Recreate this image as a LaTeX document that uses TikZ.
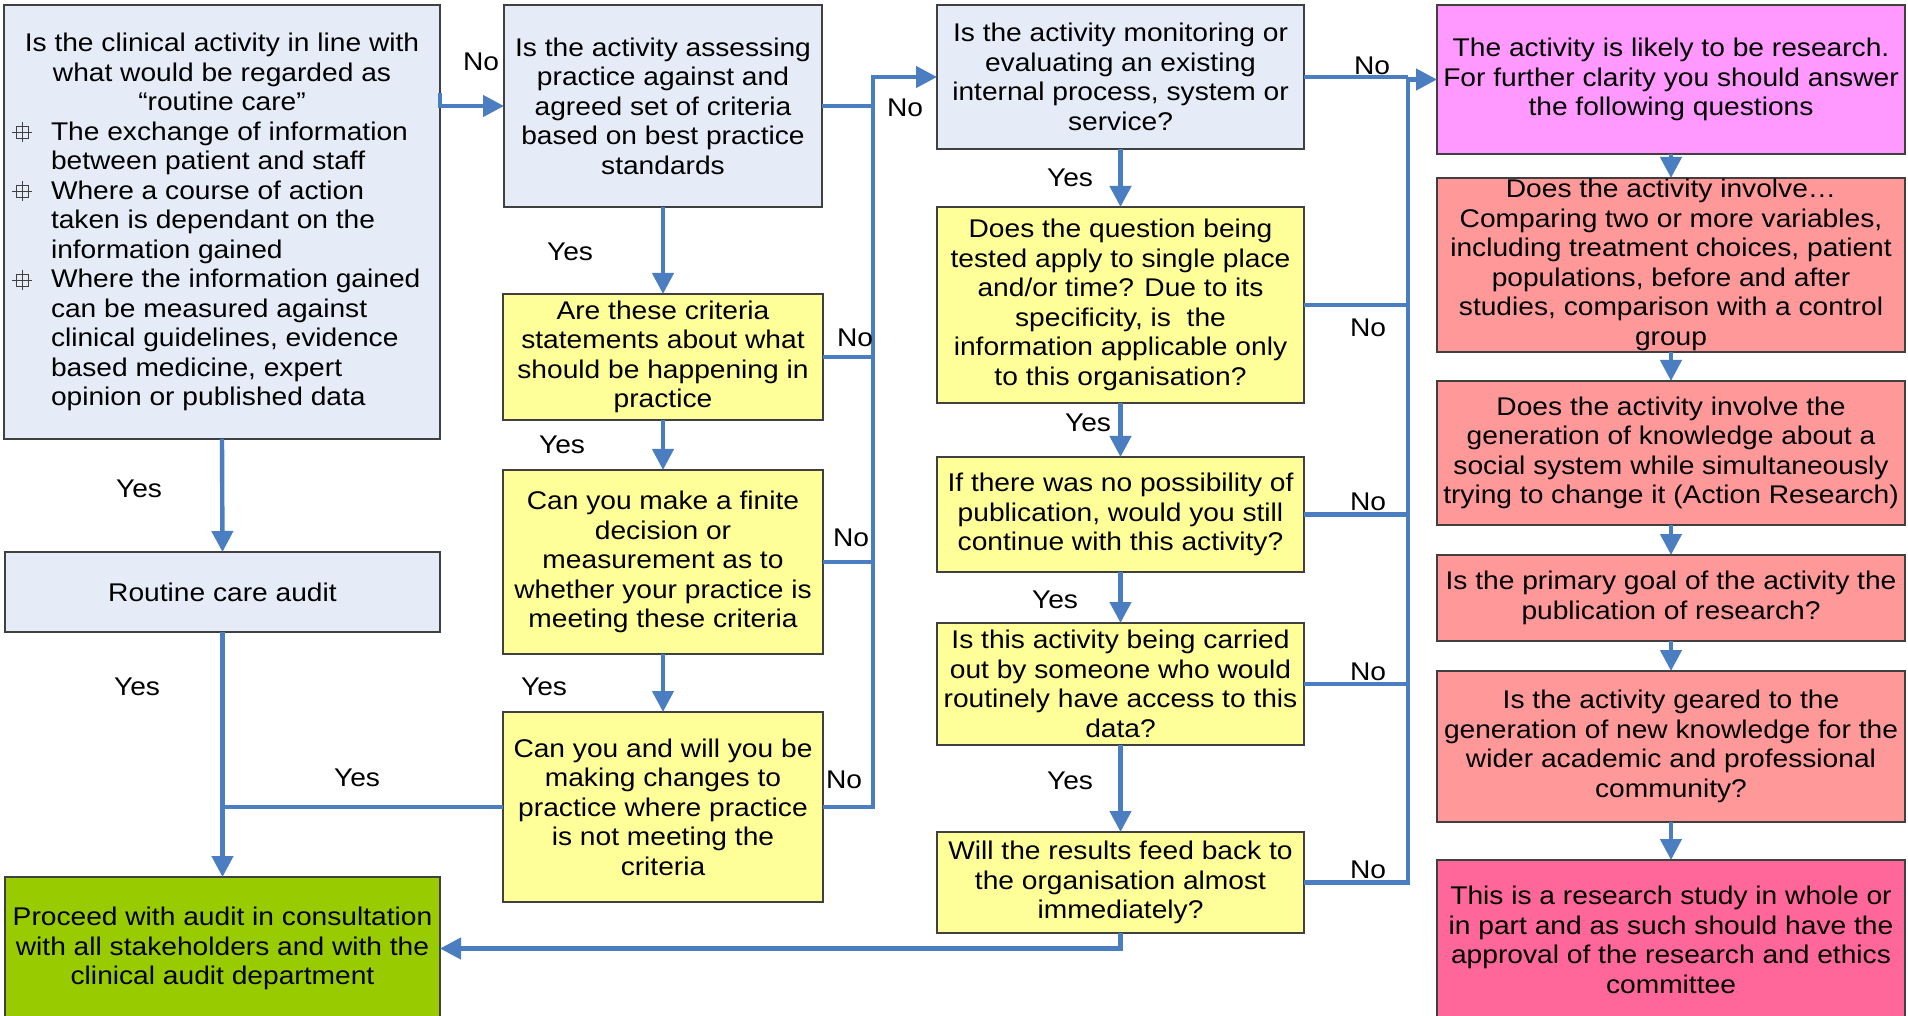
\documentclass[tikz,border=0pt]{standalone}
\usepackage{fontspec}
\setmainfont{Liberation Sans}[FakeStretch=1.1]
\usetikzlibrary{arrows.meta,calc}
\definecolor{lblue}{HTML}{E6ECF7}
\definecolor{ylw}{HTML}{FFFF99}
\definecolor{mag}{HTML}{FF99FF}
\definecolor{salmon}{HTML}{FF9999}
\definecolor{pinkb}{HTML}{FF6699}
\definecolor{grn}{HTML}{99CC00}
\definecolor{ablue}{HTML}{4A7EC1}
\definecolor{bord}{HTML}{404040}
\newcommand\fs{\fontsize{12.8pt}{14.75pt}\selectfont}
\newcommand\bx[7]{\node[box,#6,minimum width={(#4-#2)*0.5pt},minimum height={(#5-#3)*0.5pt}] (#1) at ({(#2+#4)/2},{(#3+#5)/2}) {#7};}
\newcommand\bl[1]{\makebox[210pt][l]{\hspace*{19.5pt}#1}}
\begin{document}
\begin{tikzpicture}[x=0.5pt,y=-0.5pt,
  box/.style={draw=bord,line width=0.7pt,inner sep=0pt,outer sep=0pt,align=center,font=\fs},
  conn/.style={draw=ablue,line width=2.2pt},
  arr/.style={conn,-{Triangle[length=10.5pt,width=10.5pt]}},
  lbl/.style={font=\fs,inner sep=0pt},
  bul/.pic={\draw[line width=0.45pt,bord] (-6,-6) rectangle (6,6) (-10,0)--(10,0) (0,-10)--(0,10);}]
\useasboundingbox (0,0) rectangle (1908,1016);
\fill[white] (0,0) rectangle (1908,1016);
% column 1
\bx{A}{4}{5}{440}{439}{fill=lblue}{Is the clinical activity in line with\\ what would be regarded as\\ “routine care”\\
\bl{The exchange of information}\\ \bl{between patient and staff}\\
\bl{Where a course of action}\\ \bl{taken is dependant on the}\\ \bl{information gained}\\
\bl{Where the information gained}\\ \bl{can be measured against}\\ \bl{clinical guidelines, evidence}\\ \bl{based medicine, expert}\\ \bl{opinion or published data}}
\pic at (22,132) {bul};
\pic at (22,191) {bul};
\pic at (22,280) {bul};
\bx{R}{5}{552}{440}{632}{fill=lblue}{Routine care audit}
\bx{G}{5}{877}{440}{1020}{fill=grn}{Proceed with audit in consultation\\ with all stakeholders and with the\\ clinical audit department}
% column 2
\bx{B}{504}{5}{822}{207}{fill=lblue}{Is the activity assessing\\ practice against and\\ agreed set of criteria\\ based on best practice\\ standards}
\bx{C}{503}{294}{823}{420}{fill=ylw}{Are these criteria\\ statements about what\\ should be happening in\\ practice}
\bx{C2}{503}{470}{823}{654}{fill=ylw}{Can you make a finite\\ decision or\\ measurement as to\\ whether your practice is\\ meeting these criteria}
\bx{C3}{503}{712}{823}{902}{fill=ylw}{Can you and will you be\\ making changes to\\ practice where practice\\ is not meeting the\\ criteria}
% column 3
\bx{D}{937}{5}{1304}{149}{fill=lblue}{Is the activity monitoring or\\ evaluating an existing\\ internal process, system or\\ service?}
\bx{E}{937}{207}{1304}{403}{fill=ylw}{Does the question being\\ tested apply to single place\\ and/or time? Due to its\\ specificity, is\ \ the\\ information applicable only\\ to this organisation?}
\bx{E2}{937}{457}{1304}{572}{fill=ylw}{If there was no possibility of\\ publication, would you still\\ continue with this activity?}
\bx{E3}{937}{623}{1304}{745}{fill=ylw}{Is this activity being carried\\ out by someone who would\\ routinely have access to this\\ data?}
\bx{E4}{937}{832}{1304}{933}{fill=ylw}{Will the results feed back to\\ the organisation almost\\ immediately?}
% column 4
\bx{F}{1437}{5}{1905}{154}{fill=mag}{The activity is likely to be research.\\ For further clarity you should answer\\ the following questions}
\bx{H1}{1437}{178}{1905}{352}{fill=salmon}{Does the activity involve…\\ Comparing two or more variables,\\ including treatment choices, patient\\ populations, before and after\\ studies, comparison with a control\\ group}
\bx{H2}{1437}{381}{1905}{525}{fill=salmon}{Does the activity involve the\\ generation of knowledge about a\\ social system while simultaneously\\ trying to change it (Action Research)}
\bx{H3}{1437}{555}{1905}{641}{fill=salmon}{Is the primary goal of the activity the\\ publication of research?}
\bx{H4}{1437}{671}{1905}{822}{fill=salmon}{Is the activity geared to the\\ generation of new knowledge for the\\ wider academic and professional\\ community?}
\bx{H5}{1437}{860}{1905}{1020}{fill=pinkb}{This is a research study in whole or\\ in part and as such should have the\\ approval of the research and ethics\\ committee}
% bus coordinates
\coordinate (bus1) at (873,77);
\coordinate (bus2) at (1408,79.5);
% connectors column 1
\draw[arr] ($(A.north east)+(0,88)$) |- (B.west);
\draw[arr] (A.south) -- (R.north);
\draw[arr] (R.south) -- (G.north);
\draw[conn] (C3.west) -- (C3.west -| R.south);
% column 2
\draw[arr] (B.south) -- (C.north);
\draw[arr] (C.south) -- (C2.north);
\draw[arr] (C2.south) -- (C3.north);
\draw[arr] (C3.east) -| (bus1) -- (D.west);
\draw[conn] (B.east) -- (B.east -| bus1);
\draw[conn] (C.east) -- (C.east -| bus1);
\draw[conn] (C2.east) -- (C2.east -| bus1);
% column 3
\draw[arr] (D.south) -- (E.north);
\draw[arr] (E.south) -- (E2.north);
\draw[arr] (E2.south) -- (E3.north);
\draw[arr] (E3.south) -- (E4.north);
\draw[arr] (E4.east) -| (bus2) -- (F.west);
\draw[conn] (D.east) -- (D.east -| bus2);
\draw[conn] (E.east) -- (E.east -| bus2);
\draw[conn] (E2.east) -- (E2.east -| bus2);
\draw[conn] (E3.east) -- (E3.east -| bus2);
\draw[arr] (E4.south) |- (G.east);
% column 4
\draw[arr] (F.south) -- (H1.north);
\draw[arr] (H1.south) -- (H2.north);
\draw[arr] (H2.south) -- (H3.north);
\draw[arr] (H3.south) -- (H4.north);
\draw[arr] (H4.south) -- (H5.north);
% labels
\node[lbl] (l1) at (481,62) {No};
\node[lbl] (l2) at (139,489) {Yes};
\node[lbl] (l3) at (137,687) {Yes};
\node[lbl] (l4) at (357,778) {Yes};
\node[lbl] (l5) at (570,252) {Yes};
\node[lbl] (l6) at (562,445) {Yes};
\node[lbl] (l7) at (544,687) {Yes};
\node[lbl] (l8) at (905,108) {No};
\node[lbl] (l9) at (855,338) {No};
\node[lbl] (l10) at (851,538) {No};
\node[lbl] (l11) at (844,780) {No};
\node[lbl] (l12) at (1070,178) {Yes};
\node[lbl] (l13) at (1088,423) {Yes};
\node[lbl] (l14) at (1055,600) {Yes};
\node[lbl] (l15) at (1070,781) {Yes};
\node[lbl] (l16) at (1372,66) {No};
\node[lbl] (l17) at (1368,328) {No};
\node[lbl] (l18) at (1368,502) {No};
\node[lbl] (l19) at (1368,672) {No};
\node[lbl] (l20) at (1368,870) {No};
\end{tikzpicture}
\end{document}
